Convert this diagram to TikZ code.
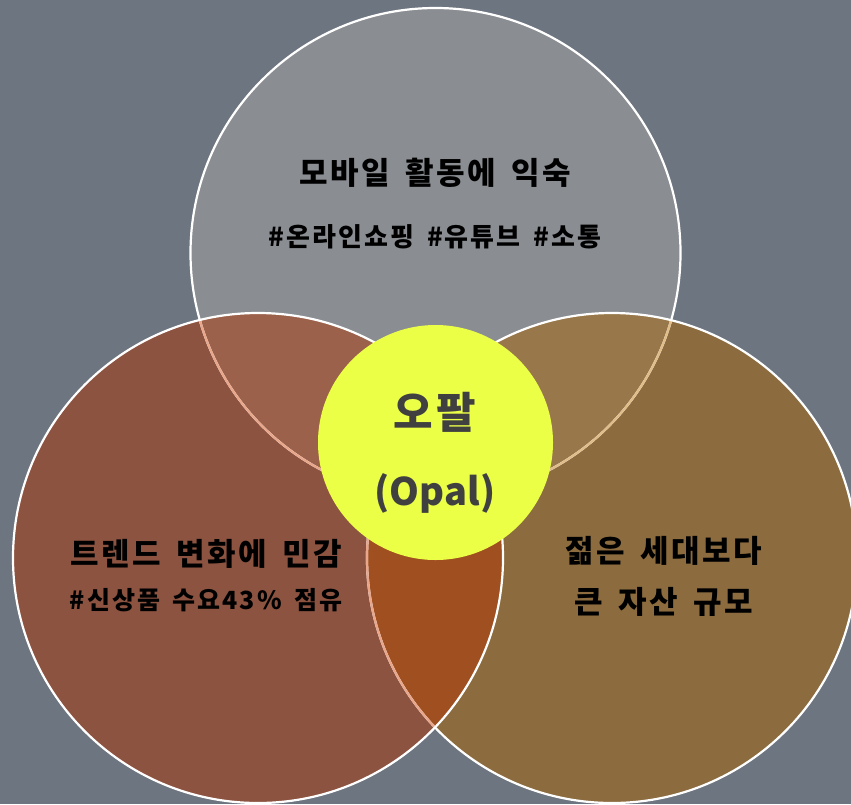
\documentclass[tikz,border=0pt]{standalone}
\usepackage{fontspec}
\newfontfamily\kr{Noto Sans CJK KR}
\newfontfamily\krw{Noto Sans CJK KR}[LetterSpace=8,WordSpace=1.6]
\definecolor{bgc}{HTML}{6D7580}
\definecolor{topc}{HTML}{8A8D92}
\definecolor{leftc}{HTML}{8D5341}
\definecolor{rightc}{HTML}{8C6C3F}
\definecolor{tlc}{HTML}{9C614A}
\definecolor{trc}{HTML}{98784A}
\definecolor{lrc}{HTML}{A04F20}
\definecolor{pinkc}{HTML}{E8A68B}
\definecolor{tanc}{HTML}{E0BD89}
\definecolor{opalc}{HTML}{EBFF47}
\definecolor{opaltxt}{HTML}{404040}
\tikzset{
  rim/.style={line width=2.2pt},
  lbl/.style={text=black, align=center, inner sep=0pt},
}
\newcommand{\fsz}[1]{\krw\bfseries\fontsize{#1}{#1}\selectfont}
\begin{document}
\begin{tikzpicture}[x=1pt,y=-1pt]
\useasboundingbox (0,0) rectangle (851,804);
\fill[bgc] (0,0) rectangle (851,804);
\coordinate (T) at (435.5,253);
\coordinate (L) at (258,558);
\coordinate (R) at (612,558);
\coordinate (O) at (435.5,442.5);
\def\rr{245}
% fills
\fill[topc] (T) circle[radius=\rr];
\fill[rightc] (R) circle[radius=\rr];
\fill[leftc] (L) circle[radius=\rr];
\begin{scope}\clip (T) circle[radius=\rr]; \fill[tlc] (L) circle[radius=\rr]; \end{scope}
\begin{scope}\clip (T) circle[radius=\rr]; \fill[trc] (R) circle[radius=\rr]; \end{scope}
\begin{scope}\clip (L) circle[radius=\rr]; \fill[lrc] (R) circle[radius=\rr]; \end{scope}
% rims
\draw[rim, white] (T) circle[radius=\rr];
\begin{scope}\clip (R) circle[radius=\rr]; \draw[rim, tanc] (T) circle[radius=\rr]; \end{scope}
\draw[rim, white] (R) circle[radius=\rr];
\begin{scope}\clip (L) circle[radius=\rr]; \draw[rim, pinkc] (T) circle[radius=\rr]; \draw[rim, pinkc] (R) circle[radius=\rr]; \end{scope}
\draw[rim, white] (L) circle[radius=\rr];
% centre
\fill[opalc] (O) circle[radius=117.5];
% texts
\node[lbl, font=\fsz{31}] (t1) at (435,173) {모바일 활동에 익숙};
\node[lbl, font=\fsz{26}] (t2) at (435,237) {\#온라인쇼핑 \#유튜브 \#소통};
\node[lbl, font=\fsz{31}] (l1) at (206,554) {트렌드 변화에 민감};
\node[lbl, font=\fsz{25}] (l2) at (206,600) {\#신상품 수요43\% 점유};
\node[lbl, font=\fsz{31}] (r1) at (664,551) {젊은 세대보다};
\node[lbl, font=\fsz{31}] (r2) at (664,602) {큰 자산 규모};
\node[lbl, text=opaltxt, font=\fsz{43}] (o1) at (435,412) {오팔};
\node[lbl, text=opaltxt, font=\kr\bfseries\fontsize{38}{38}\selectfont] (o2) at (435,493) {(Opal)};
\end{tikzpicture}
\end{document}
